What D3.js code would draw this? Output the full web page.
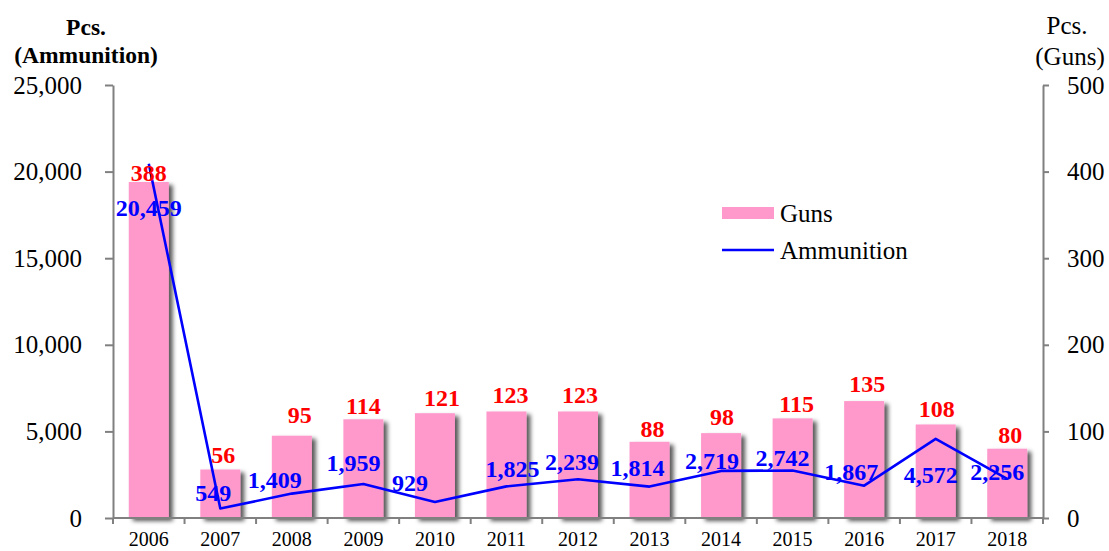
<!DOCTYPE html>
<html lang="en">
<head>
    <meta charset="UTF-8">
    <title>Guns and Ammunition</title>
    <script src="https://cdnjs.cloudflare.com/ajax/libs/d3/7.8.5/d3.min.js"></script>
    <style>
        body {
            margin: 0;
            background-color: #ffffff;
            font-family: "Liberation Serif", "Times New Roman", serif;
        }
    </style>
</head>
<body>
    <div id="chart"></div>

    <script>
        // Data
        const years = ["2006", "2007", "2008", "2009", "2010", "2011", "2012", "2013", "2014", "2015", "2016", "2017", "2018"];
        const guns = [388, 56, 95, 114, 121, 123, 123, 88, 98, 115, 135, 108, 80];
        const ammunition = [20459, 549, 1409, 1959, 929, 1825, 2239, 1814, 2719, 2742, 1867, 4572, 2256];
        const leftTicks = [0, 5000, 10000, 15000, 20000, 25000];
        const rightTicks = [0, 100, 200, 300, 400, 500];

        // Label nudges (px) so labels sit where the original put them
        const gunsLabelDx = [0, 3, 8, 0, 7, 4, 2, 3, 1, 4, 3, 1, 3];
        const gunsLabelDy = [-1, -7, -13, -5, -7, -8, -8, -5, -8, -6, -9, -7, -6];
        const ammoLabelDx = [0, -7, -17, -10, -25, 6, -6, -12, -9, -10, -13, -5, -10];
        const ammoLabelDy = [44, -16, -14, -21, -19, -18, -17, -19, -10, -13, -14, 36, -7];

        const W = 1109, H = 551;
        const plot = {left: 113, right: 1043, top: 85, bottom: 518};

        const svg = d3.select("#chart")
            .append("svg")
                .attr("width", W)
                .attr("height", H);

        // Bar shadow
        const defs = svg.append("defs");
        defs.append("filter")
            .attr("id", "shadow")
            .attr("x", "-20%").attr("y", "-10%")
            .attr("width", "160%").attr("height", "130%")
            .append("feDropShadow")
                .attr("dx", 4)
                .attr("dy", 3)
                .attr("stdDeviation", 2)
                .attr("flood-color", "#000")
                .attr("flood-opacity", 0.65);

        const x = d3.scaleBand()
            .domain(years)
            .range([plot.left, plot.right])
            .padding(0);
        const cx = d => x(d) + x.bandwidth() / 2;

        const yL = d3.scaleLinear().domain([0, 25000]).range([plot.bottom, plot.top]);
        const yR = d3.scaleLinear().domain([0, 500]).range([plot.bottom, plot.top]);

        // Bars (Guns, right axis)
        const barW = 40;
        svg.append("g")
            .selectAll("rect")
            .data(guns)
            .join("rect")
                .attr("x", (d, i) => cx(years[i]) - barW / 2)
                .attr("y", d => yR(d))
                .attr("width", barW)
                .attr("height", d => plot.bottom - yR(d))
                .attr("fill", "#FF99CC")
                .attr("filter", "url(#shadow)");

        // Axes
        const axisColor = "#808080";
        const gl = svg.append("g")
            .attr("transform", `translate(${plot.left},0)`)
            .call(d3.axisLeft(yL)
                .tickValues(leftTicks)
                .tickFormat(d3.format(","))
                .tickSize(8)
                .tickSizeOuter(0)
                .tickPadding(23));

        const gr = svg.append("g")
            .attr("transform", `translate(${plot.right},0)`)
            .call(d3.axisRight(yR)
                .tickValues(rightTicks)
                .tickSize(6)
                .tickSizeOuter(0)
                .tickPadding(18));

        // x axis: ticks sit between the years
        const xTicks = years.map(d => x(d)).concat([plot.right]);
        const gx = svg.append("g");
        gx.append("line")
            .attr("x1", plot.left).attr("x2", plot.right)
            .attr("y1", plot.bottom).attr("y2", plot.bottom)
            .attr("stroke", axisColor).attr("stroke-width", 2);
        gx.selectAll("line.tick")
            .data(xTicks)
            .join("line")
                .attr("class", "tick")
                .attr("x1", d => d).attr("x2", d => d)
                .attr("y1", plot.bottom).attr("y2", plot.bottom + 6)
                .attr("stroke", axisColor).attr("stroke-width", 2);
        gx.selectAll("text")
            .data(years)
            .join("text")
                .attr("x", d => cx(d))
                .attr("y", 546)
                .attr("text-anchor", "middle")
                .style("font-size", "20px")
                .attr("fill", "#000")
                .text(d => d);

        [gl, gr].forEach(g => {
            g.select(".domain").attr("stroke", axisColor).attr("stroke-width", 2);
            g.selectAll(".tick line").attr("stroke", axisColor).attr("stroke-width", 2);
            g.selectAll(".tick text")
                .style("font-family", "'Liberation Serif', 'Times New Roman', serif")
                .style("font-size", "25px")
                .attr("fill", "#000");
        });

        // Ammunition line (left axis)
        const line = d3.line()
            .x((d, i) => cx(years[i]))
            .y(d => yL(d));

        svg.append("path")
            .datum(ammunition)
            .attr("fill", "none")
            .attr("stroke", "#0000FF")
            .attr("stroke-width", 2.6)
            .attr("stroke-linejoin", "round")
            .attr("d", line);

        // Guns labels
        svg.append("g")
            .selectAll("text")
            .data(guns)
            .join("text")
                .attr("x", (d, i) => cx(years[i]) + gunsLabelDx[i])
                .attr("y", (d, i) => yR(d) + gunsLabelDy[i])
                .attr("text-anchor", "middle")
                .style("font-size", "24px")
                .style("font-weight", "bold")
                .attr("fill", "#FF0000")
                .text(d => d);

        // Ammunition labels
        svg.append("g")
            .selectAll("text")
            .data(ammunition)
            .join("text")
                .attr("x", (d, i) => cx(years[i]) + ammoLabelDx[i])
                .attr("y", (d, i) => yL(d) + ammoLabelDy[i])
                .attr("dy", "0.34em")
                .attr("text-anchor", "middle")
                .style("font-size", "24px")
                .style("font-weight", "bold")
                .attr("fill", "#0000FF")
                .text(d => d3.format(",")(d));

        // Axis titles
        svg.append("text")
            .attr("x", 86).attr("y", 35)
            .attr("text-anchor", "middle")
            .style("font-size", "23.5px")
            .style("font-weight", "bold")
            .text("Pcs.");
        svg.append("text")
            .attr("x", 86).attr("y", 63)
            .attr("text-anchor", "middle")
            .style("font-size", "23.5px")
            .style("font-weight", "bold")
            .text("(Ammunition)");

        svg.append("text")
            .attr("x", 1067).attr("y", 34)
            .attr("text-anchor", "middle")
            .style("font-size", "25px")
            .text("Pcs.");
        svg.append("text")
            .attr("x", 1070).attr("y", 65)
            .attr("text-anchor", "middle")
            .style("font-size", "25px")
            .text("(Guns)");

        // Legend
        const legend = svg.append("g");
        legend.append("rect")
            .attr("x", 722).attr("y", 207)
            .attr("width", 52).attr("height", 12)
            .attr("fill", "#FF99CC");
        legend.append("text")
            .attr("x", 780).attr("y", 213)
            .attr("dy", "0.35em")
            .style("font-size", "25px")
            .text("Guns");
        legend.append("line")
            .attr("x1", 722).attr("x2", 774)
            .attr("y1", 250).attr("y2", 250)
            .attr("stroke", "#0000FF")
            .attr("stroke-width", 2.6);
        legend.append("text")
            .attr("x", 780).attr("y", 250)
            .attr("dy", "0.35em")
            .style("font-size", "25px")
            .text("Ammunition");
    </script>
</body>
</html>
